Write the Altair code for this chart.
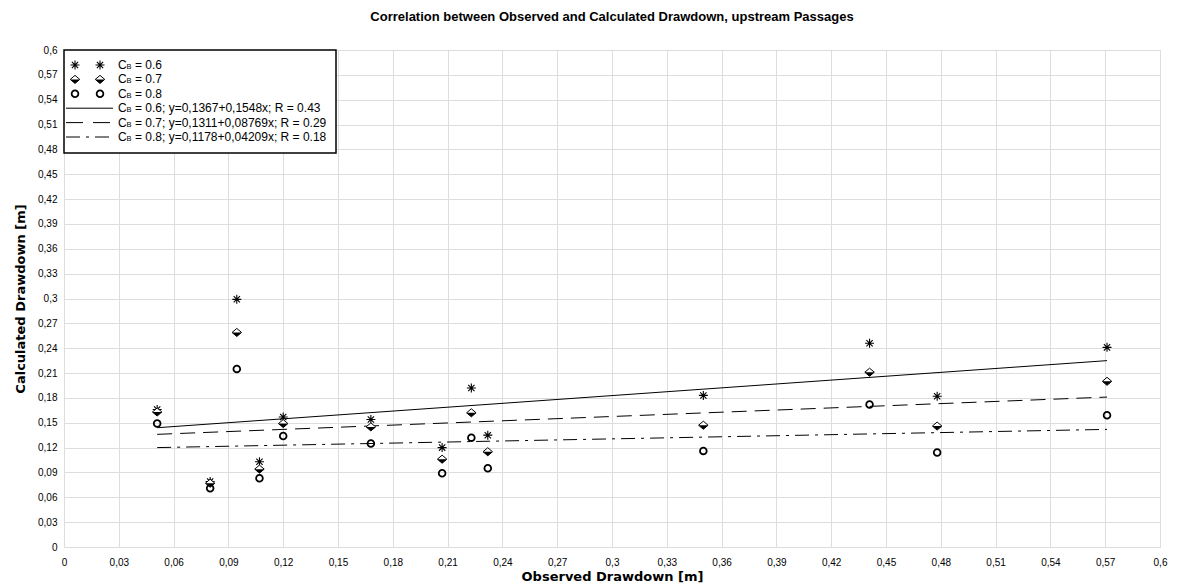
import altair as alt
import pandas as pd

# ---------------- data ----------------
obs = [0.051, 0.080, 0.0946, 0.107, 0.120, 0.168, 0.207, 0.223, 0.232, 0.350, 0.441, 0.478, 0.571]
calc_06 = [0.166, 0.079, 0.299, 0.103, 0.157, 0.154, 0.120, 0.192, 0.135, 0.183, 0.246, 0.182, 0.241]
calc_07 = [0.163, 0.077, 0.259, 0.094, 0.149, 0.145, 0.106, 0.162, 0.115, 0.147, 0.211, 0.146, 0.200]
calc_08 = [0.149, 0.071, 0.215, 0.083, 0.134, 0.125, 0.089, 0.132, 0.095, 0.116, 0.172, 0.114, 0.159]

fit_x = [0.051, 0.571]
fit_06 = [0.144, 0.225]
fit_07 = [0.136, 0.181]
fit_08 = [0.120, 0.142]

series_names = ["0.6", "0.7", "0.8"]
legend_rest = [
    "= 0.6",
    "= 0.7",
    "= 0.8",
    "= 0.6;  y=0,1367+0,1548x;  R = 0.43",
    "= 0.7;  y=0,1311+0,08769x;  R = 0.29",
    "= 0.8;  y=0,1178+0,04209x;  R = 0.18",
]
tick_values = [0, 0.03, 0.06, 0.09, 0.12, 0.15, 0.18, 0.21, 0.24, 0.27, 0.3,
               0.33, 0.36, 0.39, 0.42, 0.45, 0.48, 0.51, 0.54, 0.57, 0.6]

TITLE = "Correlation between Observed and Calculated Drawdown, upstream Passages"
FONT = "Liberation Sans"
AXFONT = "DejaVu Sans"

# ---------------- tables ----------------
rows = []
for s, vals in zip(series_names, [calc_06, calc_07, calc_08]):
    for xv, yv in zip(obs, vals):
        rows.append({"obs": xv, "calc": yv, "series": s})
pts = pd.DataFrame(rows)

frows = []
for s, vals in zip(series_names, [fit_06, fit_07, fit_08]):
    for xv, yv in zip(fit_x, vals):
        frows.append({"obs": xv, "calc": yv, "series": s})
fits = pd.DataFrame(frows)

leg = pd.DataFrame({"row": list(range(6)), "rest": legend_rest,
                    "kind": ["p06", "p07", "p08", "l06", "l07", "l08"]})

# ---------------- shapes ----------------
STAR = "M-1,0L1,0M0,-1L0,1M-0.7,-0.7L0.7,0.7M-0.7,0.7L0.7,-0.7"
DIAMOND = "M0,-0.85L1,0L0,0.85L-1,0Z"
HALF = "M-1,0L1,0L0,0.85Z"

label_expr = "replace(format(datum.value, '.2~f'), '.', ',')"

x_enc = alt.X("obs:Q",
              scale=alt.Scale(domain=[0, 0.6], nice=False, zero=False),
              axis=alt.Axis(values=tick_values, labelExpr=label_expr,
                            title="Observed Drawdown [m]", grid=True,
                            ticks=False, domain=False, labelPadding=10,
                            titlePadding=3, labelFlush=False,
                            titleFont=AXFONT, titleFontSize=13, titleFontWeight="bold",
                            titleColor="black"))
y_enc = alt.Y("calc:Q",
              scale=alt.Scale(domain=[0, 0.6], nice=False, zero=False),
              axis=alt.Axis(values=tick_values, labelExpr=label_expr,
                            title="Calculated Drawdown [m]", grid=True,
                            ticks=False, domain=False, labelPadding=7,
                            titlePadding=10, labelFlush=False,
                            titleFont=AXFONT, titleFontSize=13, titleFontWeight="bold",
                            titleColor="black"))

base_pts = alt.Chart(pts)
stars = base_pts.mark_point(shape=STAR, size=81, filled=False, color="black",
                            strokeWidth=1.1, opacity=1).encode(x=x_enc, y=y_enc).transform_filter(
    alt.datum.series == "0.6")
diam_o = base_pts.mark_point(shape=DIAMOND, size=90, filled=True, fill="white", stroke="black",
                             strokeWidth=1, opacity=1).encode(x=x_enc, y=y_enc).transform_filter(
    alt.datum.series == "0.7")
diam_h = base_pts.mark_point(shape=HALF, size=90, filled=True, color="black",
                             strokeWidth=0, opacity=1).encode(x=x_enc, y=y_enc).transform_filter(
    alt.datum.series == "0.7")
circles = base_pts.mark_point(shape="circle", size=45, filled=False, color="black",
                              strokeWidth=1.8, opacity=1).encode(x=x_enc, y=y_enc).transform_filter(
    alt.datum.series == "0.8")

base_fit = alt.Chart(fits)
line06 = base_fit.mark_line(color="black", strokeWidth=1).encode(x=x_enc, y=y_enc).transform_filter(
    alt.datum.series == "0.6")
line07 = base_fit.mark_line(color="black", strokeWidth=1, strokeDash=[15, 8]).encode(
    x=x_enc, y=y_enc).transform_filter(alt.datum.series == "0.7")
line08 = base_fit.mark_line(color="black", strokeWidth=1, strokeDash=[14, 6, 3, 6]).encode(
    x=x_enc, y=y_enc).transform_filter(alt.datum.series == "0.8")

main = alt.layer(line06, line07, line08, stars, diam_o, diam_h, circles)

# ---------------- custom legend ----------------
ly = alt.Y("row:Q", scale=alt.Scale(domain=[0, 5], range=[15, 87]), axis=None)
box = alt.Chart(pd.DataFrame({"a": [0]})).mark_rect(fill="white", stroke="black",
                                                    strokeWidth=1.5).encode(
    x=alt.value(0), x2=alt.value(272), y=alt.value(0), y2=alt.value(103))
lbase = alt.Chart(leg)
lstar = [lbase.mark_point(shape=STAR, size=81, filled=False, color="black", strokeWidth=1.1,
                          opacity=1).encode(x=alt.value(xp), y=ly).transform_filter(
    alt.datum.kind == "p06") for xp in (11, 36)]
ldo = [lbase.mark_point(shape=DIAMOND, size=90, filled=True, fill="white", stroke="black",
                        strokeWidth=1, opacity=1).encode(x=alt.value(xp), y=ly).transform_filter(
    alt.datum.kind == "p07") for xp in (11, 36)]
ldh = [lbase.mark_point(shape=HALF, size=90, filled=True, color="black", strokeWidth=0,
                        opacity=1).encode(x=alt.value(xp), y=ly).transform_filter(
    alt.datum.kind == "p07") for xp in (11, 36)]
lci = [lbase.mark_point(shape="circle", size=45, filled=False, color="black", strokeWidth=1.8,
                        opacity=1).encode(x=alt.value(xp), y=ly).transform_filter(
    alt.datum.kind == "p08") for xp in (11, 36)]
lr1 = lbase.mark_rule(color="black", strokeWidth=1).encode(
    x=alt.value(2), x2=alt.value(49), y=ly).transform_filter(alt.datum.kind == "l06")
lr2 = lbase.mark_rule(color="black", strokeWidth=1, strokeDash=[17, 10]).encode(
    x=alt.value(2), x2=alt.value(49), y=ly).transform_filter(alt.datum.kind == "l07")
lr3 = lbase.mark_rule(color="black", strokeWidth=1, strokeDash=[14, 6, 3, 6]).encode(
    x=alt.value(2), x2=alt.value(49), y=ly).transform_filter(alt.datum.kind == "l08")
lc = lbase.mark_text(text="C", align="left", baseline="middle", fontSize=12, font=FONT,
                     color="black").encode(x=alt.value(54), y=ly)
lb = lbase.mark_text(text="B", align="left", baseline="middle", fontSize=7.5, font=FONT,
                     color="black", dy=2).encode(x=alt.value(62.5), y=ly)
lt = lbase.mark_text(align="left", baseline="middle", fontSize=12, font=FONT,
                     color="black").encode(x=alt.value(71), y=ly, text="rest:N")

legend = alt.layer(box, *lstar, *ldo, *ldh, *lci, lr1, lr2, lr3, lc, lb, lt)

chart = alt.layer(main, legend).resolve_scale(y="independent").properties(
    width=1096, height=497,
    title=alt.TitleParams(TITLE, fontSize=13, font=FONT, fontWeight="bold",
                          anchor="middle", offset=21, color="black"),
    autosize=alt.AutoSizeParams(type="none"),
    padding={"left": 64, "top": 50, "right": 21, "bottom": 41},
).configure_view(stroke="black", strokeWidth=2).configure_axis(
    labelFont=FONT, labelFontSize=11, labelColor="#222222",
    gridColor="#cccccc", gridWidth=1,
).configure(background="white")

chart.save("out.html", embed_options={"renderer": "svg", "actions": False})
